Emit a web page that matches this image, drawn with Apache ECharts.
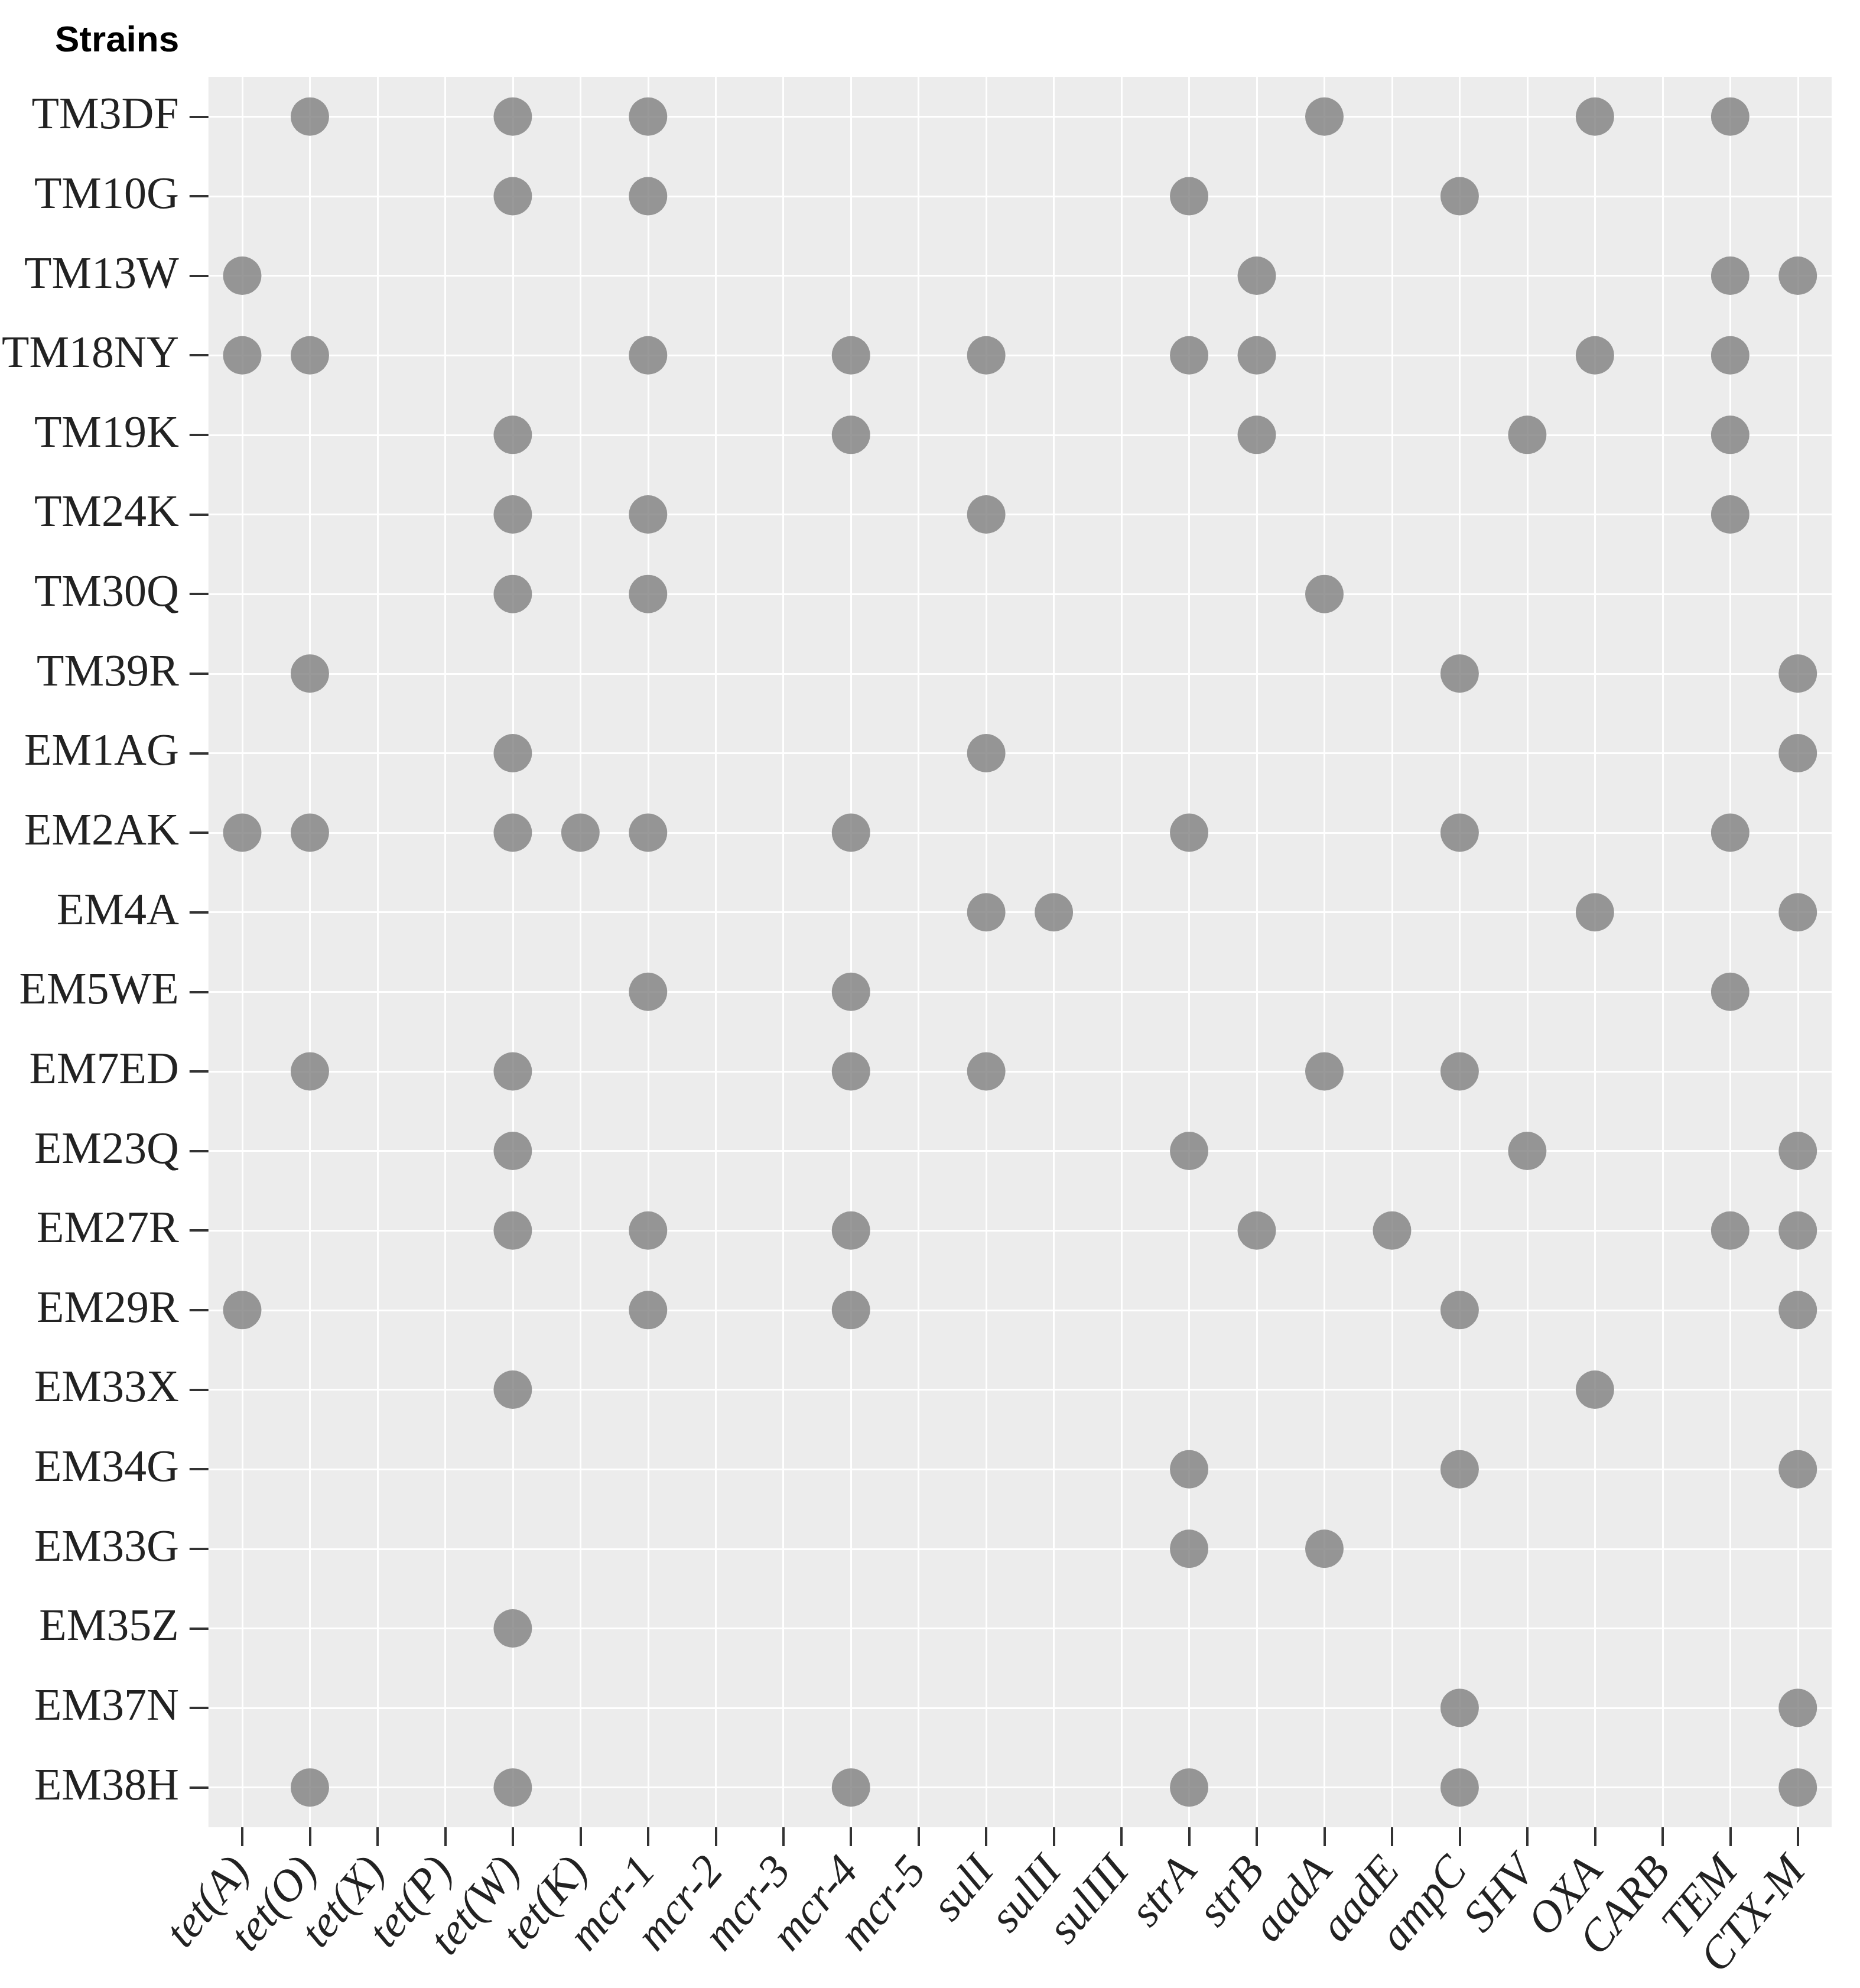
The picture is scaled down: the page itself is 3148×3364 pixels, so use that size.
<!DOCTYPE html>
<html>
<head>
<meta charset="utf-8">
<script src="https://cdn.jsdelivr.net/npm/echarts@6/dist/echarts.min.js"></script>
<style>
  html, body { margin: 0; padding: 0; background: #fff; }
  #chart { width: 3148px; height: 3364px; }
</style>
</head>
<body>
<div id="chart"></div>
<script>
const genes = [
  "tet(A)", "tet(O)", "tet(X)", "tet(P)", "tet(W)", "tet(K)",
  "mcr-1", "mcr-2", "mcr-3", "mcr-4", "mcr-5",
  "sulI", "sulII", "sulIII", "strA", "strB", "aadA", "aadE",
  "ampC", "SHV", "OXA", "CARB", "TEM", "CTX-M"
];

const strains = [
  "TM3DF", "TM10G", "TM13W", "TM18NY", "TM19K", "TM24K", "TM30Q", "TM39R",
  "EM1AG", "EM2AK", "EM4A", "EM5WE", "EM7ED", "EM23Q", "EM27R", "EM29R",
  "EM33X", "EM34G", "EM33G", "EM35Z", "EM37N", "EM38H"
];

// genes detected in each strain, same order as strains
const detected = [
  ["tet(O)", "tet(W)", "mcr-1", "aadA", "OXA", "TEM"],
  ["tet(W)", "mcr-1", "strA", "ampC"],
  ["tet(A)", "strB", "TEM", "CTX-M"],
  ["tet(A)", "tet(O)", "mcr-1", "mcr-4", "sulI", "strA", "strB", "OXA", "TEM"],
  ["tet(W)", "mcr-4", "strB", "SHV", "TEM"],
  ["tet(W)", "mcr-1", "sulI", "TEM"],
  ["tet(W)", "mcr-1", "aadA"],
  ["tet(O)", "ampC", "CTX-M"],
  ["tet(W)", "sulI", "CTX-M"],
  ["tet(A)", "tet(O)", "tet(W)", "tet(K)", "mcr-1", "mcr-4", "strA", "ampC", "TEM"],
  ["sulI", "sulII", "OXA", "CTX-M"],
  ["mcr-1", "mcr-4", "TEM"],
  ["tet(O)", "tet(W)", "mcr-4", "sulI", "aadA", "ampC"],
  ["tet(W)", "strA", "SHV", "CTX-M"],
  ["tet(W)", "mcr-1", "mcr-4", "strB", "aadE", "TEM", "CTX-M"],
  ["tet(A)", "mcr-1", "mcr-4", "ampC", "CTX-M"],
  ["tet(W)", "OXA"],
  ["strA", "ampC", "CTX-M"],
  ["strA", "aadA"],
  ["tet(W)"],
  ["ampC", "CTX-M"],
  ["tet(O)", "tet(W)", "mcr-4", "strA", "ampC", "CTX-M"]
];

const points = [];
strains.forEach((s, i) => {
  detected[i].forEach((g) => points.push([g, s]));
});

const chart = echarts.init(document.getElementById("chart"));

const option = {
  animation: false,
  backgroundColor: "#ffffff",
  title: {
    text: "Strains",
    left: 88,
    top: 34,
    textStyle: {
      fontFamily: "Liberation Sans",
      fontWeight: "bold",
      fontSize: 62,
      color: "#000",
    },
  },
  grid: {
    left: 351,
    right: 48,
    top: 130,
    bottom: 272,
    show: true,
    backgroundColor: "#ececec",
    borderWidth: 0,
  },
  xAxis: {
    type: "category",
    data: genes,
    boundaryGap: true,
    axisLine: { show: false },
    axisTick: {
      show: true,
      alignWithLabel: true,
      length: 32,
      lineStyle: { color: "#333", width: 4 },
    },
    axisLabel: {
      interval: 0,
      rotate: 50,
      margin: 62,
      fontFamily: "Liberation Serif",
      fontStyle: "italic",
      fontSize: 76,
      color: "#222",
    },
    splitLine: {
      show: true,
      interval: 0,
      alignWithLabel: true,
      lineStyle: { color: "#ffffff", width: 3 },
    },
  },
  yAxis: {
    type: "category",
    data: strains,
    inverse: true,
    boundaryGap: true,
    axisLine: { show: false },
    axisTick: {
      show: true,
      alignWithLabel: true,
      length: 32,
      lineStyle: { color: "#333", width: 4 },
    },
    axisLabel: {
      interval: 0,
      margin: 50,
      fontFamily: "Liberation Serif",
      fontSize: 76,
      color: "#222",
    },
    splitLine: {
      show: true,
      interval: 0,
      alignWithLabel: true,
      lineStyle: { color: "#ffffff", width: 3 },
    },
  },
  series: [
    {
      type: "scatter",
      data: points,
      symbol: "circle",
      symbolSize: 65,
      itemStyle: { color: "#808080" },
    },
  ],
};

chart.setOption(option);
</script>
</body>
</html>
